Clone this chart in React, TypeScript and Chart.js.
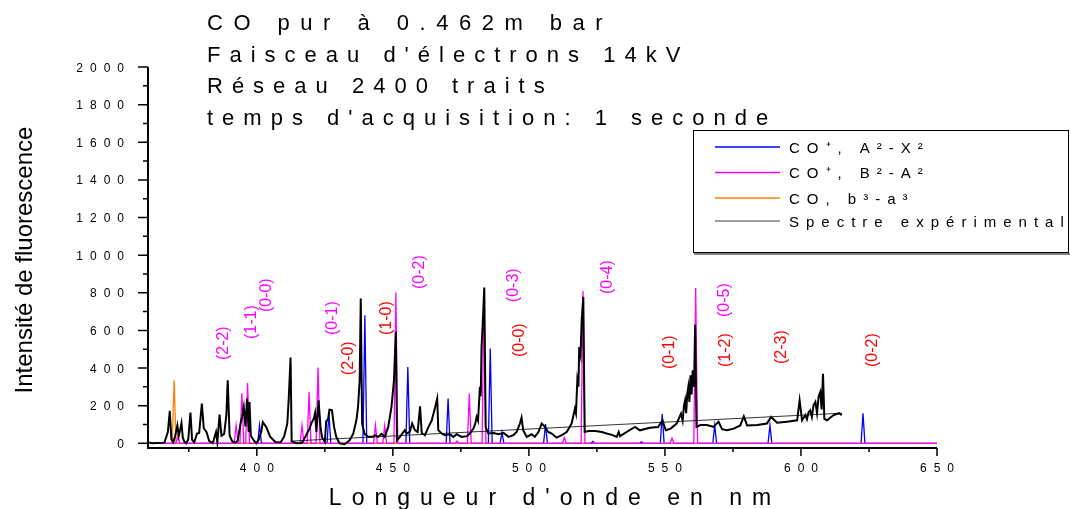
import React, { useEffect, useRef } from 'react';
import { Chart, registerables } from 'chart.js';

Chart.register(...registerables);

// ---- axes ----
const X_MIN = 360;
const X_MAX = 650;
const Y_MIN = -25;
const Y_MAX = 2000;
const xMajorTicks = [400, 450, 500, 550, 600, 650];
const xMinorTicks = [375, 425, 475, 525, 575, 625];
const yMajorTicks = [0, 200, 400, 600, 800, 1000, 1200, 1400, 1600, 1800, 2000];
const yMinorTicks = [100, 300, 500, 700, 900, 1100, 1300, 1500, 1700, 1900];

// ---- simulated line positions (nm) and heights ----
const blueCenters = [401.0, 426.5, 439.7, 455.5, 470.3, 485.8, 490.1, 506.1, 523.5, 541.4, 549.0, 568.3, 588.6, 622.8];
const blueHeights = [96, 158, 680, 405, 238, 504, 58, 102, 10, 8, 155, 96, 96, 160];

const magentaCenters = [371.0, 392.4, 394.5, 396.6, 416.6, 419.2, 422.5, 443.6, 447.0, 451.1, 473.6, 478.1, 483.5, 513.0, 519.9, 552.6, 561.3];
const magentaHeights = [40, 96, 266, 321, 96, 272, 403, 96, 94, 802, 12, 264, 812, 30, 809, 27, 825];

const orangeCenters = [369.6];
const orangeHeights = [335];

// ---- experimental spectrum ----
const spectrumX = [
  360.5, 361.5, 363, 366, 367.3, 368, 368.6, 369.3, 370, 370.8, 371.3, 371.8, 372.3, 372.8, 373.3, 374,
  374.8, 375.6, 376.2, 377, 378, 378.8, 379.8, 380.5, 381.5, 382.5, 383.8, 385, 385.5, 386.3, 387, 388,
  388.8, 389.3, 390, 391, 392.2, 393, 394, 394.6, 395.2, 395.8, 396.4, 397, 397.3, 397.8, 398.9, 399.8,
  400.7, 401.6, 402.2, 403.5, 404.9, 406.8, 408.7, 410, 411.2, 411.7, 412.4, 412.8, 414.6, 416.5, 417.8,
  418.5, 419.4, 420, 421, 421.4, 421.9, 422.7, 423.4, 424, 425, 425.5, 426.2, 426.7, 427.6, 428.4, 429.2,
  430.4, 432.3, 434.1, 435.4, 436.6, 437.2, 437.8, 438.2, 438.7, 439.6, 440.9, 442.7, 443.4, 444.6, 445.8,
  447, 448.3, 449.5, 450.4, 451.1, 451.5, 452.6, 454.4, 455, 456.2, 457.1, 458.1, 459.1, 460, 460.6, 461.8,
  463.1, 464.3, 465.4, 466.3, 466.7, 467.9, 469.1, 471, 472.2, 473.5, 475.3, 477.2, 478.3, 479.6, 480.2,
  480.8, 481.3, 482, 482.3, 482.6, 483.2, 483.6, 484.1, 485.1, 487, 488.8, 490.7, 492.5, 494.3, 495.5,
  496.7, 497.3, 497.9, 499.2, 501, 502.2, 503.5, 504.7, 505.9, 507.1, 508.4, 510.2, 512.1, 513.9, 515.7,
  516.4, 516.9, 517.3, 517.8, 518.2, 518.5, 519, 519.4, 520, 520.5, 521.9, 524.4, 526.8, 528.6, 530.5,
  532.3, 533, 533.5, 535.9, 539, 540.8, 544.5, 547.5, 549.1, 550.3, 552.1, 554.3, 555.9, 556.5, 557, 557.4,
  557.8, 558.2, 558.6, 559, 559.4, 559.8, 560.2, 560.7, 561.1, 561.6, 563, 565.4, 567.9, 569.7, 571, 572.8,
  575.3, 577.7, 579, 580.2, 583.9, 587.5, 589, 591.2, 594.9, 598.6, 599.5, 600.4, 601.6, 602.2, 602.8,
  603.4, 604, 604.6, 605.3, 605.9, 606.5, 607.1, 607.6, 608.1, 608.6, 609.6, 612, 614, 615,
];
const spectrumY = [
  5, 0, 2, 3, 60, 172, 20, 5, 40, 96, 40, 70, 107, 30, 10, 0,
  20, 163, 20, 5, 52, 55, 211, 80, 60, 12, 0, 60, 5, 152, 40, 50,
  150, 335, 40, 10, 3, 15, 105, 140, 193, 90, 238, 60, 220, 40, 15, 0,
  20, 60, 113, 85, 35, 7, 4, 34, 105, 230, 456, 10, 0, 2, 34,
  55, 78, 105, 133, 160, 60, 228, 87, 30, 7, 117, 130, 179, 176, 87, 34,
  0, -5, 16, 50, 122, 193, 335, 770, 105, 50, 35, 35, 43, 34, 50,
  34, 87, 193, 335, 592, 16, 34, 70, 52, 60, 105, 70, 60, 197, 55, 43,
  87, 122, 184, 238, 70, 52, 43, 48, 34, 48, 34, 38, 52, 78, 100,
  140, 120, 300, 250, 512, 690, 828, 87, 52, 55, 48, 55, 34, 43, 60,
  105, 137, 70, 34, 48, 34, 60, 105, 87, 60, 52, 30, 43, 60, 105,
  150, 184, 160, 335, 300, 512, 470, 654, 778, 60, 65, 65, 60, 52, 45,
  34, 60, 38, 60, 87, 69, 83, 87, 122, 69, 78, 105, 158, 120, 200, 228,
  160, 260, 300, 220, 362, 260, 388, 300, 630, 87, 97, 97, 87, 115, 75, 69,
  78, 95, 143, 95, 97, 105, 140, 109, 115, 122, 228, 122, 150, 128, 165,
  175, 140, 200, 220, 160, 250, 273, 180, 370, 130, 122, 150, 160, 150,
];

// straight thin line under the spectrum
const trendX = [413, 615];
const trendY = [12, 160];

// ---- band labels ----
const bandLabels = ['(2-2)', '(1-1)', '(0-0)', '(0-1)', '(2-0)', '(1-0)', '(0-2)', '(0-3)', '(0-0)', '(0-4)', '(0-1)', '(0-5)', '(1-2)', '(2-3)', '(0-2)'];
const bandLabelX = [387.9, 398.2, 403.7, 427.9, 433.8, 447.8, 459.9, 494.5, 496.7, 529.0, 551.8, 572.0, 572.4, 593.0, 626.5];
const bandLabelY = [532, 644, 787, 665, 452, 665, 910, 840, 548, 883, 484, 761, 495, 511, 495];
const bandLabelColor = ['#ff00ff', '#ff00ff', '#ff00ff', '#ff00ff', '#ff0000', '#ff0000', '#ff00ff', '#ff00ff', '#ff0000', '#ff00ff', '#ff0000', '#ff00ff', '#ff0000', '#ff0000', '#ff0000'];

// ---- texts ----
const titleLines = ['CO pur à 0.462m bar', "Faisceau d'électrons 14kV", 'Réseau 2400 traits', "temps d'acquisition: 1 seconde"];
const titleSpacing = [10.5, 9, 9, 9];
const xAxisTitle = "Longueur d'onde en nm";
const yAxisTitle = 'Intensité de fluorescence';
const legendLabels = ['CO⁺, A²-X²', 'CO⁺, B²-A²', 'CO, b³-a³', 'Spectre expérimental'];
const legendColors = ['#0000ff', '#ff00ff', '#ff8000', '#808080'];

const BLUE = '#0000ff';
const MAGENTA = '#ff00ff';
const ORANGE = '#ff8000';
const PEAK_HALF_WIDTH = 0.7;
const FONT = '"Liberation Sans", Arial, sans-serif';

function stickSeries(centers: number[], heights: number[]) {
  const pts: { x: number; y: number }[] = [{ x: X_MIN, y: 0 }];
  centers.forEach((c, i) => {
    pts.push({ x: c - PEAK_HALF_WIDTH, y: 0 }, { x: c, y: heights[i] }, { x: c + PEAK_HALF_WIDTH, y: 0 });
  });
  pts.push({ x: X_MAX, y: 0 });
  return pts;
}

function spacedWidth(ctx: CanvasRenderingContext2D, text: string, spacing: number) {
  (ctx as any).letterSpacing = '0px';
  const n = Array.from(text).length;
  return ctx.measureText(text).width + spacing * (n - 1);
}

function drawSpaced(ctx: CanvasRenderingContext2D, text: string, x: number, y: number, spacing: number, align: 'left' | 'center' | 'right') {
  const w = spacedWidth(ctx, text, spacing);
  let left = x;
  if (align === 'center') left = x - w / 2;
  if (align === 'right') left = x - w;
  ctx.textAlign = 'left';
  (ctx as any).letterSpacing = spacing + 'px';
  ctx.fillText(text, left, y);
  (ctx as any).letterSpacing = '0px';
}

const decorPlugin = {
  id: 'decor',
  afterDraw(chart: any) {
    const ctx: CanvasRenderingContext2D = chart.ctx;
    const xs = chart.scales.x;
    const ys = chart.scales.y;
    const area = chart.chartArea;
    ctx.save();
    ctx.strokeStyle = '#000';
    ctx.fillStyle = '#000';

    // axis lines
    ctx.lineWidth = 2;
    ctx.beginPath();
    ctx.moveTo(area.left, area.top);
    ctx.lineTo(area.left, area.bottom);
    ctx.lineTo(area.right, area.bottom);
    ctx.stroke();

    // ticks
    ctx.lineWidth = 1.5;
    ctx.beginPath();
    xMajorTicks.forEach((v) => { const p = xs.getPixelForValue(v); ctx.moveTo(p, area.bottom); ctx.lineTo(p, area.bottom + 8); });
    xMinorTicks.forEach((v) => { const p = xs.getPixelForValue(v); ctx.moveTo(p, area.bottom); ctx.lineTo(p, area.bottom + 4); });
    yMajorTicks.forEach((v) => { const p = ys.getPixelForValue(v); ctx.moveTo(area.left, p); ctx.lineTo(area.left - 10, p); });
    yMinorTicks.forEach((v) => { const p = ys.getPixelForValue(v); ctx.moveTo(area.left, p); ctx.lineTo(area.left - 5, p); });
    ctx.stroke();

    // tick labels
    ctx.font = `12px ${FONT}`;
    ctx.textBaseline = 'alphabetic';
    xMajorTicks.forEach((v) => drawSpaced(ctx, String(v), xs.getPixelForValue(v), area.bottom + 24, 7, 'center'));
    yMajorTicks.forEach((v) => drawSpaced(ctx, String(v), area.left - 24, ys.getPixelForValue(v) + 4.5, 7, 'right'));

    // axis titles
    ctx.font = `23px ${FONT}`;
    drawSpaced(ctx, xAxisTitle, 550, 505, 10, 'center');
    ctx.save();
    ctx.translate(32, 260);
    ctx.rotate(-Math.PI / 2);
    ctx.font = `24px ${FONT}`;
    ctx.textAlign = 'center';
    ctx.fillText(yAxisTitle, 0, 0);
    ctx.restore();

    // title block
    ctx.font = `22px ${FONT}`;
    titleLines.forEach((t, i) => drawSpaced(ctx, t, 207, 30 + i * 31.5, titleSpacing[i], 'left'));

    // band labels
    ctx.font = `16px ${FONT}`;
    bandLabels.forEach((t, i) => {
      ctx.save();
      ctx.translate(xs.getPixelForValue(bandLabelX[i]), ys.getPixelForValue(bandLabelY[i]));
      ctx.rotate(-Math.PI / 2);
      ctx.fillStyle = bandLabelColor[i];
      ctx.textAlign = 'center';
      ctx.textBaseline = 'middle';
      ctx.fillText(t, 0, 0);
      ctx.restore();
    });

    // legend box
    ctx.fillStyle = '#fff';
    ctx.fillRect(693, 130, 376, 123);
    ctx.strokeStyle = '#000';
    ctx.lineWidth = 1;
    ctx.strokeRect(693.5, 130.5, 375, 122);
    ctx.strokeStyle = '#808080';
    ctx.lineWidth = 2;
    ctx.beginPath();
    ctx.moveTo(694, 254);
    ctx.lineTo(1070, 254);
    ctx.stroke();
    const rowY = [147, 172.5, 198, 221];
    ctx.font = `15px ${FONT}`;
    legendLabels.forEach((t, i) => {
      ctx.strokeStyle = legendColors[i];
      ctx.lineWidth = 1.5;
      ctx.beginPath();
      ctx.moveTo(715, rowY[i]);
      ctx.lineTo(780, rowY[i]);
      ctx.stroke();
      ctx.fillStyle = '#000';
      drawSpaced(ctx, t, 789, rowY[i] + 5.5, 7, 'left');
    });
    ctx.restore();
  },
};

export default function App() {
  const ref = useRef<HTMLCanvasElement | null>(null);
  useEffect(() => {
    document.body.style.margin = '0';
    const canvas = ref.current;
    if (!canvas) return;
    const spectrum = spectrumX.map((x, i) => ({ x, y: spectrumY[i] }));
    const trend = trendX.map((x, i) => ({ x, y: trendY[i] }));
    const chart = new Chart(canvas, {
      type: 'scatter',
      data: {
        datasets: [
          { label: 'Spectre expérimental', data: spectrum, borderColor: '#000', borderWidth: 2, showLine: true, pointRadius: 0, order: 0 },
          { label: 'ligne', data: trend, borderColor: '#000', borderWidth: 0.8, showLine: true, pointRadius: 0, order: 1 },
          { label: 'CO, b³-a³', data: stickSeries(orangeCenters, orangeHeights), borderColor: ORANGE, borderWidth: 1.3, showLine: true, pointRadius: 0, order: 3 },
          { label: 'CO⁺, B²-A²', data: stickSeries(magentaCenters, magentaHeights), borderColor: MAGENTA, borderWidth: 1.3, showLine: true, pointRadius: 0, order: 2 },
          { label: 'CO⁺, A²-X²', data: stickSeries(blueCenters, blueHeights), borderColor: BLUE, borderWidth: 1.3, showLine: true, pointRadius: 0, order: 4 },
        ],
      },
      options: {
        animation: false,
        responsive: false,
        devicePixelRatio: 1,
        layout: { padding: { left: 148, top: 67, right: 133, bottom: 61 } },
        scales: {
          x: { type: 'linear', min: X_MIN, max: X_MAX, display: false },
          y: { type: 'linear', min: Y_MIN, max: Y_MAX, display: false },
        },
        plugins: { legend: { display: false }, tooltip: { enabled: false } },
        elements: { line: { tension: 0 } },
      },
      plugins: [decorPlugin],
    } as any);
    return () => chart.destroy();
  }, []);
  return (
    <div style={{ width: 1070, height: 509, background: '#fff' }}>
      <canvas ref={ref} width={1070} height={509} style={{ display: 'block' }} />
    </div>
  );
}
